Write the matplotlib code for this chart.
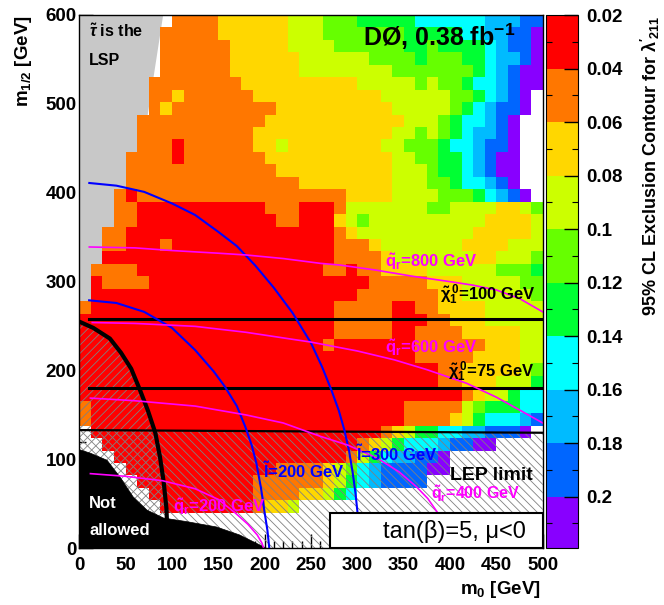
import numpy as np
import matplotlib as mpl
mpl.use("Agg")
import matplotlib.pyplot as plt
from matplotlib.colors import ListedColormap, BoundaryNorm
from matplotlib.patches import Polygon, Rectangle
from matplotlib.ticker import MultipleLocator

plt.rcParams.update({
    "font.family": ["Liberation Sans", "DejaVu Sans"],
    "font.weight": "bold",
    "mathtext.fontset": "custom",
    "mathtext.rm": "Liberation Sans:bold",
    "mathtext.it": "Liberation Sans:italic:bold",
    "mathtext.bf": "Liberation Sans:bold",
    "hatch.linewidth": 0.6,
})

# --------------------------------------------------------------------------- #
# data: lambda'_211 limit per (m0, m1/2) cell, coded as colour level 0..9
# rows from top (m1/2 = 586-600) down to bottom (m1/2 = 40-54), 40 m0 columns
# '.' = no point
# --------------------------------------------------------------------------- #
M0_EDGES = np.linspace(0, 500, 41)
M12_EDGES = 40 + 14 * np.arange(41)
LEVELS = [0.02, 0.04, 0.06, 0.08, 0.10, 0.12, 0.14, 0.16, 0.18, 0.20, 0.2193]
LEVEL_VALUES = [0.03, 0.05, 0.07, 0.09, 0.11, 0.13, 0.15, 0.17, 0.19, 0.21]
CBAR_TICKS = [0.02, 0.04, 0.06, 0.08, 0.1, 0.12, 0.14, 0.16, 0.18, 0.2]
CBAR_LABELS = ["0.02", "0.04", "0.06", "0.08", "0.1", "0.12", "0.14", "0.16", "0.18", "0.2"]

GRID = [
    "........11" "1122222233" "3444555556" "6666677788",
    ".......111" "1122222233" "3444444455" "5556677889",
    ".......111" "1112222233" "3344444455" "4555567889",
    ".......111" "1112222223" "3333344445" "4445567789",
    ".......111" "1112222223" "3333333444" "4444567899",
    "......1111" "1111222222" "2222333334" "3445667899",
    "......1121" "1111122222" "2222223333" "334456789.",
    "......1211" "1111111222" "2222222333" "334567889.",
    ".....11111" "1111112222" "2222222233" "34566789..",
    ".....11111" "1111122222" "2222222334" "34567789..",
    ".....11101" "1111122322" "2222223344" "45667889..",
    "....111101" "1111112222" "2222222334" "45567899..",
    "....111111" "1111111222" "2222222333" "45567899..",
    "....111111" "1111111112" "2222222333" "44566789..",
    "...1011111" "1111111111" "1112222333" "344456789.",
    "...1100000" "0000001110" "0013333333" "4433332234",
    "...1100000" "0000000110" "0023433333" "3333322223",
    "..11000000" "0000000000" "0012333333" "3333222223",
    "..11000100" "0000000000" "0011123333" "3332222333",
    "..00000000" "0000000000" "0011112333" "3333223334",
    ".111100000" "0000000000" "0110112222" "3333334445",
    ".011110000" "0000000000" "0000011111" "2223333344",
    ".000000000" "0000000000" "0000111111" "1223333334",
    "1000000000" "0000000000" "0011111001" "1222233333",
    "0000000000" "0000000000" "0011111000" "1122233333",
    "0000000000" "0000000000" "0011111001" "1112222233",
    "0000000000" "0000000000" "0100000001" "1111122233",
    "0000000000" "0000000000" "0000000001" "1111222233",
    "0000000000" "0000000000" "0000000000" "0112222234",
    "0000000000" "0000000000" "0000000000" "0112223335",
    "0000000000" "0000000000" "0000000000" "0001233566",
    "1000000000" "0000000000" "0000000011" "1113455566",
    "1000000000" "0000000000" "0000000011" "1123566678",
    ".000000000" "0000000000" "0000001235" "566778889.",
    "..00000000" "0000000000" "0000123566" "678899....",
    "...0000000" "0000000000" "0001356778" "89........",
    "....000000" "0000000111" "1234678888" "99........",
    ".....00000" "0000011111" "1235678888" "..........",
    "......0000" "0000011112" "2356......" "..........",
    ".......000" "000001223." ".........." "..........",
]

PALETTE = ["#FF0000", "#FF7700", "#FFD700", "#CCFF00", "#66FF00",
           "#00FF33", "#00FFFF", "#00BBFF", "#0066FF", "#8800FF"]

# contours (m0, m1/2)
SLEP300_M0 = [10.8, 40, 70, 100, 125, 150, 170, 190, 210, 230, 250, 262, 272, 280, 286, 291, 295, 298, 300, 302, 303]
SLEP300_M12 = [411, 408, 401, 388, 375, 356, 340, 318, 293, 265, 231, 204, 178, 155, 133, 110, 85, 62, 42, 20, 0]
SLEP200_M0 = [10.6, 40, 70, 100, 125, 145, 157, 170, 179, 186, 191, 196, 200, 203, 205]
SLEP200_M12 = [279, 276, 266, 248, 223, 199, 182, 160, 137, 116, 96, 68, 40, 20, 0]
SQ800_M0 = [10.8, 60, 100, 150, 180, 220, 260, 281, 320, 360, 400, 425, 450, 475, 500]
SQ800_M12 = [339, 338, 335, 332, 330, 326, 320.6, 318.7, 313, 306, 300, 296, 290.6, 281, 266]
SQ600_M0 = [14, 60, 125, 180, 250, 300, 340, 375, 418, 450, 475, 500]
SQ600_M12 = [254, 253, 249.7, 243, 232, 222, 212, 201, 185.6, 170, 155.6, 141]
SQ400_M0 = [12, 60, 125, 180, 220, 260, 290, 322, 345, 364, 376, 386, 392, 396, 398]
SQ400_M12 = [169, 166, 160, 150, 141, 126, 116, 101, 86, 69, 56, 41, 25, 10, 0]
SQ200_M0 = [12, 50, 90, 125, 150, 168, 182, 192, 197, 199]
SQ200_M12 = [84, 81, 76, 67, 55, 40, 27, 15, 6, 0]
STAU_M0 = [0, 15, 33, 45, 56, 65.5, 74, 82, 87, 91, 94, 94.5]
STAU_M12 = [255, 248, 236, 220, 202, 178, 155, 130, 103, 75, 45, 32]
NOTALLOWED_M0 = [0, 0, 12, 30, 44, 58, 73, 91, 116, 148, 173, 202]
NOTALLOWED_M12 = [0, 111, 107, 99, 80, 58, 43, 34, 30, 24, 15, 0]
LSP_M0 = [0, 0, 90.5, 40]
LSP_M12 = [260, 600, 600, 260]
LEP_M0 = [0, 500]
LEP_M12 = [133, 130]
CHI100_M0, CHI100_M12 = [10.6, 500], [258, 258]
CHI75_M0, CHI75_M12 = [10.6, 500], [180, 180]

# --------------------------------------------------------------------------- #
W, H = 664, 605
fig = plt.figure(figsize=(W / 100, H / 100), dpi=100)
ax = fig.add_axes([79.3 / W, 1 - 548.3 / H, 463.4 / W, 533.3 / H])
ax.set_axisbelow(True)

vals = np.full((40, 40), np.nan)
for r, row in enumerate(GRID):
    for c, ch in enumerate(row):
        if ch != ".":
            vals[39 - r, c] = LEVEL_VALUES[int(ch)]

cmap = ListedColormap(PALETTE)
norm = BoundaryNorm(LEVELS, cmap.N)

ax.add_patch(Polygon(np.column_stack([LSP_M0, LSP_M12]), closed=True, fc="#C8C8C8", ec="none", zorder=0.6))
mesh = ax.pcolormesh(M0_EDGES, M12_EDGES, np.ma.masked_invalid(vals), cmap=cmap, norm=norm, zorder=1)

# hatched exclusions
stau_poly = list(zip(STAU_M0, STAU_M12)) + [(94.5, 0), (0, 0)]
ax.add_patch(Polygon(stau_poly, closed=True, fill=False, hatch="////", ec="#808080", lw=0, zorder=2))
lep_poly = [(0, 0), (LEP_M0[0], LEP_M12[0]), (LEP_M0[1], LEP_M12[1]), (500, 0)]
ax.add_patch(Polygon(lep_poly, closed=True, fill=False, hatch="\\\\\\\\", ec="#808080", lw=0, zorder=2))

ax.add_patch(Polygon(np.column_stack([NOTALLOWED_M0, NOTALLOWED_M12]), closed=True, fc="black", ec="black", lw=0.5, zorder=3))

ax.plot(STAU_M0, STAU_M12, color="black", lw=3.0, zorder=4, solid_capstyle="butt")
ax.plot(LEP_M0, LEP_M12, color="black", lw=1.6, zorder=4)
ax.plot(CHI100_M0, CHI100_M12, color="black", lw=2.2, zorder=4)
ax.plot(CHI75_M0, CHI75_M12, color="black", lw=2.2, zorder=4)
for xs, ys in [(SLEP300_M0, SLEP300_M12), (SLEP200_M0, SLEP200_M12)]:
    ax.plot(xs, ys, color="#0000FF", lw=1.5, zorder=4)
for xs, ys in [(SQ800_M0, SQ800_M12), (SQ600_M0, SQ600_M12), (SQ400_M0, SQ400_M12), (SQ200_M0, SQ200_M12)]:
    ax.plot(xs, ys, color="#FF00FF", lw=1.2, zorder=4)

ax.add_patch(Rectangle((270.5, 0), 229.5, 39.4, fc="white", ec="black", lw=1.5, zorder=5))

# labels in the plot
MAG, BLU = "#FF00FF", "#0000FF"
CHI = r"$\mathbf{\tilde{\chi}}_{\mathbf{1}}^{\,\mathbf{0}}$"
ax.text(10.5, 575.6, r"$\tilde{\tau}$ is the", fontsize=11.5, zorder=6)
ax.text(10.5, 543.7, "LSP", fontsize=11.5, zorder=6)
ax.text(306, 565, r"DØ, 0.38 fb$^{\mathbf{-1}}$", fontsize=18, zorder=6)
ax.text(330, 316.5, r"$\mathbf{\tilde{q}_{r}}$=800 GeV", color=MAG, fontsize=12, zorder=6)
ax.text(389, 279, CHI + "=100 GeV", color="black", fontsize=12, zorder=6)
ax.text(330, 219.7, r"$\mathbf{\tilde{q}_{r}}$=600 GeV", color=MAG, fontsize=12, zorder=6)
ax.text(398, 192.4, CHI + "=75 GeV", color="black", fontsize=12, zorder=6)
ax.text(299, 98.5, r"$\mathbf{\tilde{l}}$=300 GeV", color=BLU, fontsize=12, zorder=6)
ax.text(198.5, 79.5, r"$\mathbf{\tilde{l}}$=200 GeV", color=BLU, fontsize=12, zorder=6)
ax.text(400, 77, "LEP limit", fontsize=14, zorder=6)
ax.text(380, 56, r"$\mathbf{\tilde{q}_{r}}$=400 GeV", color=MAG, fontsize=11.5, zorder=6)
ax.text(101, 40.5, r"$\mathbf{\tilde{q}_{r}}$=200 GeV", color=MAG, fontsize=12, zorder=6)
ax.text(10.6, 45, "Not", color="white", fontsize=12, zorder=6)
ax.text(10.6, 15, "allowed", color="white", fontsize=12, zorder=6)
ax.text(405, 11.6, "tan(β)=5, μ<0", fontsize=17, fontweight="normal", ha="center", zorder=6)

ax.set_xlim(0, 500)
ax.set_ylim(0, 600)
ax.xaxis.set_major_locator(MultipleLocator(50))
ax.xaxis.set_minor_locator(MultipleLocator(10))
ax.yaxis.set_major_locator(MultipleLocator(100))
ax.yaxis.set_minor_locator(MultipleLocator(20))
ax.tick_params(which="both", direction="in", top=False, right=False, width=1)
ax.tick_params(which="major", length=10, labelsize=13.5)
ax.tick_params(which="minor", length=5)
ax.tick_params(axis="x", pad=6)
ax.tick_params(axis="y", pad=2)
for s in ax.spines.values():
    s.set_linewidth(1.0)
    s.set_zorder(10)

# colour bar
cax = fig.add_axes([546 / W, 1 - 548.3 / H, 32 / W, 533.3 / H])
cb = fig.colorbar(mesh, cax=cax, boundaries=LEVELS, spacing="proportional")
cb.outline.set_linewidth(0.8)
cax.invert_yaxis()
cax.set_yticks(CBAR_TICKS)
cax.set_yticklabels(CBAR_LABELS)
cax.yaxis.set_minor_locator(MultipleLocator(0.01))
cax.tick_params(which="major", direction="in", length=10, width=1, labelsize=13.5, pad=6, right=True, left=False)
cax.tick_params(which="minor", direction="in", length=4, width=0.8, right=True, left=True)

fig.text(650 / W, 1 - 15 / H, r"95% CL Exclusion Contour for $\mathbf{\lambda'_{211}}$",
         rotation=90, ha="center", va="top", fontsize=13)
fig.text(23 / W, 1 - 15 / H, r"m$_{\mathbf{1/2}}$ [GeV]", rotation=90, ha="center", va="top", fontsize=13.5)
fig.text(541 / W, 1 - 590 / H, r"m$_{\mathbf{0}}$ [GeV]", ha="right", va="center", fontsize=13.5)

fig.savefig("out.png", dpi=100)
